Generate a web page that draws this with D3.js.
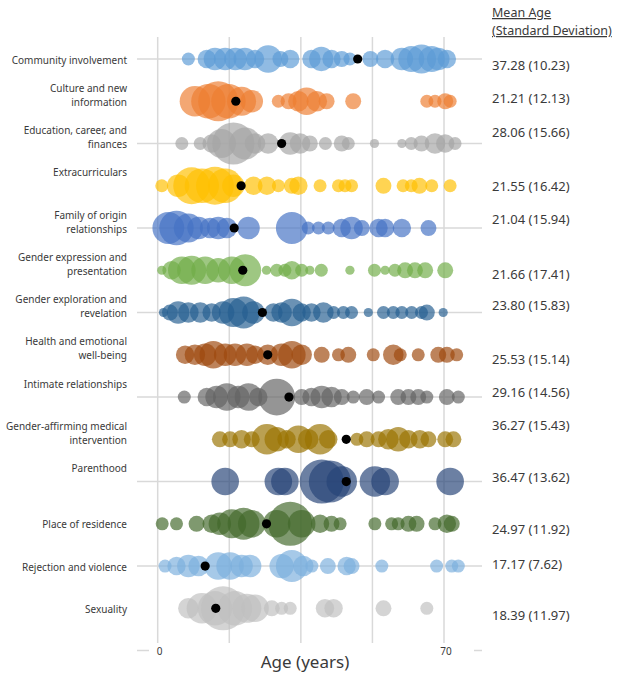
<!DOCTYPE html>
<html>
<head>
<meta charset="utf-8">
<script src="https://cdn.jsdelivr.net/npm/d3@7"></script>
<style>
  body { margin: 0; background: #fff; }
  text { font-family: "Noto Sans", sans-serif; fill: #3a3a3a; }
</style>
</head>
<body>
<svg id="chart" width="619" height="680"></svg>
<script>
// categories, top to bottom (lines of each label; empty line keeps label raised)
const categories = [
    ["Community involvement"],
    ["Culture and new", "information"],
    ["Education, career, and", "finances"],
    ["Extracurriculars", ""],
    ["Family of origin", "relationships"],
    ["Gender expression and", "presentation"],
    ["Gender exploration and", "revelation"],
    ["Health and emotional", "well-being"],
    ["Intimate relationships", ""],
    ["Gender-affirming medical", "intervention"],
    ["Parenthood", ""],
    ["Place of residence"],
    ["Rejection and violence"],
    ["Sexuality"],
];

const meanLabels = [
    "37.28 (10.23)", "21.21 (12.13)", "28.06 (15.66)", "21.55 (16.42)",
    "21.04 (15.94)", "21.66 (17.41)", "23.80 (15.83)", "25.53 (15.14)",
    "29.16 (14.56)", "36.27 (15.43)", "36.47 (13.62)", "24.97 (11.92)",
    "17.17 (7.62)", "18.39 (11.97)",
];

// where the black dot sits on the age axis
const dotAges = [48.9, 19.1, 30.3, 20.4, 18.7, 20.8, 25.6, 26.9, 32.1, 46.1, 46.1, 26.6, 11.6, 14.2];

const colors = ["#5B9BD5", "#ED7D31", "#A5A5A5", "#FFC000", "#4472C4", "#70AD47", "#255E91",
    "#9E480E", "#636363", "#997300", "#264478", "#43682B", "#7CAFDD", "#BFBFBF"];

// [age, count] per category
const community = [[7.5,2],[12,4],[14,6],[16.5,6],[19,6],[21.3,6],[23.8,4],[27,9],[30,3],[32.4,4],
    [37.6,4],[40,7],[42.5,4],[45,3],[47,2],[52,3],[55.6,4],[59.7,6],[62,8],[64.5,10],[67,8],[68.6,6],[70.7,4]];
const culture = [[9.1,11],[12.4,14],[14.8,19],[17.3,14],[20.5,10],[23,6],[29.5,2],[32,3],[34.4,5],
    [36.4,9],[38.9,5],[41.3,3],[47.8,3],[65.8,2],[67.8,2],[70.3,3],[71.5,2]];
const education = [[5.9,2],[10.4,2],[13.2,4],[15.6,10],[18.5,21],[21.4,12],[23.8,5],[27,5],[32.4,6],
    [34.8,5],[37.2,3],[41,2],[45,3],[46.6,2],[53,1],[59.7,1],[62,2],[64.5,3],[67.8,5],[70.3,4],[72.7,2]];
const extracurriculars = [[1,2],[5,6],[8.3,16],[10.8,14],[14,17],[16.5,14],[18.5,6],[23.4,4],[26.7,4],
    [29.5,2],[32.8,3],[34.4,4],[39.7,2],[44.2,2],[45.8,2],[47.4,2],[55.2,3],[60,2],[62,2],[64,3],[67,2],[71.5,2]];
const family = [[2.6,12],[4.6,14],[7.5,10],[10,6],[12.8,5],[14.8,6],[16.9,5],[22.2,6],[32.8,12],[36.8,2],
    [39.3,2],[41.7,2],[45,4],[47.4,6],[49.9,3],[54,4],[55.6,4],[59.7,4],[66.2,3]];
const genderExpression = [[1,1],[3.4,4],[5.9,9],[8.3,10],[11.6,9],[14.8,7],[18.1,9],[21.4,12],[26.6,1],
    [29.1,2],[31.1,2],[32.8,4],[35.2,2],[37.2,1],[40,2],[47,1],[53,2],[55.6,1],[58,2],[60.5,3],[62.9,3],[65.4,3],[70.3,3]];
const genderExploration = [[1.4,1],[3,3],[5,6],[7.5,5],[10.4,5],[13.2,4],[16,6],[18.5,10],[21,12],[23.4,6],
    [28.3,4],[30.3,5],[32.8,9],[35.2,4],[37.6,4],[40.5,5],[43,2],[45.4,2],[47.4,2],[51.5,1],[55.2,2],[57.6,2],
    [59.7,2],[62.1,2],[64.5,2],[65.8,3],[69.8,1]];
const health = [[6.7,4],[9.1,5],[11.6,6],[13.6,9],[16.5,6],[18.9,6],[21.8,6],[23.8,4],[26.9,5],[30.3,6],
    [32.8,9],[35.2,5],[40.1,3],[44.2,2],[46.6,3],[52.7,2],[57.6,5],[59.3,2],[63.7,2],[68.6,3],[70.7,3],[73.1,2]];
const intimate = [[6.5,2],[12,4],[14.4,6],[16.9,9],[19.7,6],[22.2,9],[24.6,4],[29.1,16],[35.2,3],[37.6,4],
    [40.1,6],[42.5,5],[45,3],[47.8,2],[51.1,3],[54,2],[58.8,3],[61.3,3],[63.7,3],[65.8,2],[70.7,3],[73.5,2]];
const affirming = [[15.2,3],[17.7,3],[20.5,4],[23,3],[26.7,11],[29.1,7],[31.5,4],[34.4,9],[36.8,5],[39.7,11],
    [41.7,4],[48.7,2],[51.1,3],[54,3],[56.4,5],[58.8,7],[61.3,4],[64.1,4],[66.2,3],[70.3,3],[72.3,3]];
const parenthood = [[16.5,9],[29.5,9],[31.1,9],[40.1,23],[42.1,21],[45,11],[53.1,11],[55.6,9],[71.5,9]];
const residence = [[1.1,2],[4.6,2],[9.5,3],[13.2,4],[15.2,6],[18.1,10],[21,12],[23,9],[29.1,9],[32.4,23],
    [35.2,9],[39.7,4],[42.5,3],[44.6,2],[53.1,2],[57.2,2],[58.8,2],[61.3,3],[63.3,3],[67.8,2],[70.7,4],[71.9,3]];
const rejection = [[1.8,2],[4.6,4],[7.5,6],[10,5],[14.8,9],[17.7,9],[20.5,6],[22.6,6],[30.3,7],[32.8,12],
    [35.6,5],[37.7,2],[41.6,3],[46.2,4],[47.4,3],[54.8,2],[68.2,2],[71.9,2],[73.5,2]];
const sexuality = [[7.5,5],[10.8,11],[14,14],[16,23],[18.9,14],[21.8,10],[23.8,9],[27.9,3],[30.3,2],[32.4,2],
    [40.9,4],[43,4],[55.2,3],[65.8,2]];

const bubbleSets = [community, culture, education, extracurriculars, family, genderExpression,
    genderExploration, health, intimate, affirming, parenthood, residence, rejection, sexuality];

const ageTicks = [0, 17.5, 35, 52.5, 70];

// nudges of the right-hand text boxes against their row (layout only)
const valueDy = [6, -3, -11, 1, -9, 4, -7, 5, -5, -14, -4, 6, -2, 7];

const svg = d3.select('#chart');

const x = d3.scaleLinear().domain([0, 70]).range([157.7, 444]);
const y = d3.scaleLinear().domain([0, 13]).range([59, 608.3]);
const r = d3.scaleSqrt().domain([0, 25]).range([0, 23]);

// vertical gridlines
svg.append('g')
    .selectAll('line')
    .data(ageTicks)
    .enter()
    .append('line')
    .attr('x1', d => x(d)).attr('x2', d => x(d))
    .attr('y1', 37).attr('y2', 660)
    .attr('stroke', '#d9d9d9')
    .attr('stroke-width', 1.5);

// horizontal gridlines on every other row
svg.append('g')
    .selectAll('line')
    .data(d3.range(0, 15, 2))
    .enter()
    .append('line')
    .attr('x1', 137).attr('x2', 482)
    .attr('y1', d => y(d)).attr('y2', d => y(d))
    .attr('stroke', '#d9d9d9')
    .attr('stroke-width', 1.5);

// bubbles
const rows = svg.append('g');
bubbleSets.forEach((set, i) => {
    rows.append('g')
        .selectAll('circle')
        .data(set)
        .enter()
        .append('circle')
        .attr('cx', d => x(d[0]))
        .attr('cy', y(i))
        .attr('r', d => r(d[1]))
        .attr('fill', colors[i])
        .attr('fill-opacity', 0.68);
});

// mean dots
svg.append('g')
    .selectAll('circle')
    .data(dotAges)
    .enter()
    .append('circle')
    .attr('cx', d => x(d))
    .attr('cy', (d, i) => y(i))
    .attr('r', 4.6)
    .attr('fill', '#000');

// category labels, last line sits on the row
categories.forEach((lines, i) => {
    const t = svg.append('text')
        .attr('text-anchor', 'end')
        .style('font-size', '10px');
    lines.forEach((ln, k) => {
        t.append('tspan')
            .attr('x', 127)
            .attr('y', y(i) + 4.5 - (lines.length - 1 - k) * 14)
            .text(ln);
    });
});

// mean (sd) column
svg.append('g')
    .selectAll('text')
    .data(meanLabels)
    .enter()
    .append('text')
    .attr('x', 492)
    .attr('y', (d, i) => y(i) + valueDy[i] + 4.5)
    .style('font-size', '13px')
    .text(d => d);

const head = svg.append('text')
    .style('font-size', '12.5px')
    .style('text-decoration', 'underline');
head.append('tspan').attr('x', 492).attr('y', 17).text('Mean Age');
head.append('tspan').attr('x', 492).attr('y', 35).text('(Standard Deviation)');

// axis area box hides the bottom gridline between the end stubs
svg.append('rect')
    .attr('x', 149).attr('y', 643)
    .attr('width', 325).attr('height', 37)
    .attr('fill', '#fff');

svg.append('g')
    .selectAll('text')
    .data([0, 70])
    .enter()
    .append('text')
    .attr('x', d => x(d) + 2)
    .attr('y', 655)
    .attr('text-anchor', 'middle')
    .style('font-size', '10px')
    .text(d => d);

svg.append('text')
    .attr('x', 305)
    .attr('y', 668)
    .attr('text-anchor', 'middle')
    .style('font-size', '17px')
    .text('Age (years)');
</script>
</body>
</html>
